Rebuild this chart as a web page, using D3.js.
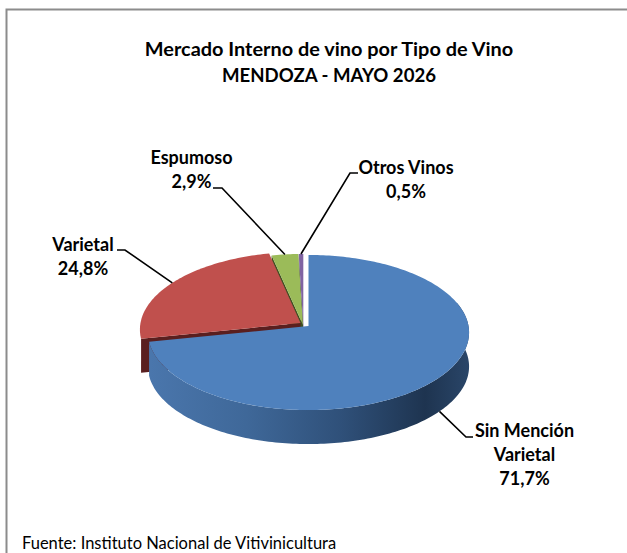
<!DOCTYPE html>
<html>
<head>
<meta charset="utf-8">
<script src="https://cdnjs.cloudflare.com/ajax/libs/d3/7.8.5/d3.min.js"></script>
<style>
html,body{margin:0;padding:0;background:#fff;overflow:hidden}
svg{display:block}
text{font-family:Lato,"Open Sans",sans-serif;fill:#000}
</style>
</head>
<body>
<script>
const categories = ["Sin Mención Varietal", "Varietal", "Espumoso", "Otros Vinos"];
const values = [71.7, 24.8, 2.9, 0.5];
const valueLabels = ["71,7%", "24,8%", "2,9%", "0,5%"];
const titleLines = ["Mercado Interno de vino por Tipo de Vino", "MENDOZA - MAYO 2026"];
const source = "Fuente: Instituto Nacional de Vitivinicultura";
const colors = ["#4f81bd", "#c0504d", "#9bbb59", "#8064a2"];
const wallColors = ["#1f3552", "#5a1f1f", "#3f5020", "#40305a"];

const W = 627, H = 553;
const svg = d3.select("body").append("svg").attr("width", W).attr("height", H);

// Frame
svg.append("path").attr("d", `M${W},9.5H6.5V${H}`).attr("fill", "none").attr("stroke", "#8c8c8c").attr("stroke-width", 2);

// Perspective projection of the tilted disc
const R = 160, Ry = 77, K = 0.084, depth = 34;
const origins = [[308.5, 326], [300.5, 323], [303, 325], [303.3, 325]];
const project = (a, o, r = 1, dz = 0) => {
  const s = Math.sin(a) * r, u = Math.cos(a) * r, w = 1 + K * u;
  return [o[0] + R * s / w, o[1] - Ry * u / w + dz];
};
const line = d3.line();
const rim = (a0, a1, o, dz = 0) => {
  const n = Math.max(2, Math.ceil((a1 - a0) / 0.02));
  return d3.range(n + 1).map(i => project(a0 + (a1 - a0) * i / n, o, 1, dz));
};

const arcs = d3.pie().sort(null)(values);

const defs = svg.append("defs");
const grad = defs.append("linearGradient").attr("id", "sideBlue")
  .attr("gradientUnits", "userSpaceOnUse").attr("x1", 150).attr("x2", 470).attr("y1", 0).attr("y2", 0);
[[0, "#4a76ac"], [0.3, "#3f6899"], [0.6, "#2f5079"], [0.86, "#1e3450"], [1, "#2a4669"]]
  .forEach(([o, c]) => grad.append("stop").attr("offset", o).attr("stop-color", c));

// Draw back to front: purple, green, red, blue
[3, 2, 1].forEach(i => {
  const a = arcs[i], o = origins[i];
  const corner = project(a.startAngle, o);
  svg.append("path")
    .attr("d", line([o, corner, [corner[0], corner[1] + depth], [o[0], o[1] + depth]]) + "Z")
    .attr("fill", wallColors[i]);
  svg.append("path")
    .attr("d", line([o, ...rim(a.startAngle, a.endAngle, o)]) + "Z")
    .attr("fill", colors[i]);
});

// Blue slice: side then top
const b = arcs[0], bo = origins[0];
const sideTop = rim(Math.PI * 0.4, b.endAngle, bo);
const sideBottom = rim(Math.PI * 0.4, b.endAngle, bo, depth).reverse();
svg.append("path").attr("d", line([...sideTop, ...sideBottom]) + "Z").attr("fill", "url(#sideBlue)");
svg.append("path").attr("d", line([bo, ...rim(b.startAngle, b.endAngle, bo)]) + "Z").attr("fill", colors[0]);

// Labels & leader lines
const labels = [
  {lines: ["Sin Mención", "Varietal", valueLabels[0]], x: 524.5, y: 437, elbow: [[466, 437], [473, 437]], dz: depth},
  {lines: [categories[1], valueLabels[1]], x: 83, y: 251, elbow: [[125, 250], [117, 250]], dz: 0},
  {lines: [categories[2], valueLabels[2]], x: 191.5, y: 164, elbow: [[222, 188], [213, 188]], dz: 0},
  {lines: [categories[3], valueLabels[3]], x: 406, y: 174, elbow: [[350, 173], [358, 173]], dz: 0}
];
labels.forEach((l, i) => {
  const a = arcs[i], mid = (a.startAngle + a.endAngle) / 2;
  const p = project(mid, origins[i], 1, l.dz);
  svg.append("path").attr("d", line([p, ...l.elbow])).attr("fill", "none").attr("stroke", "#000").attr("stroke-width", 1.6);
  const t = svg.append("text").attr("text-anchor", "middle").attr("font-weight", 700).attr("font-size", 18);
  l.lines.forEach((s, j) => t.append("tspan").attr("x", l.x).attr("y", l.y + j * 24).text(s));
});

// Title
const tt = svg.append("text").attr("text-anchor", "middle").attr("font-weight", 700);
titleLines.forEach((s, j) => tt.append("tspan").attr("x", 329).attr("y", 56 + j * 26)
  .attr("font-size", j === 0 ? 19.9 : 18.6).text(s));

// Source
svg.append("text").attr("x", 22).attr("y", 548.5).attr("font-size", 16.5).attr("fill", "#222").text(source);
</script>
</body>
</html>
